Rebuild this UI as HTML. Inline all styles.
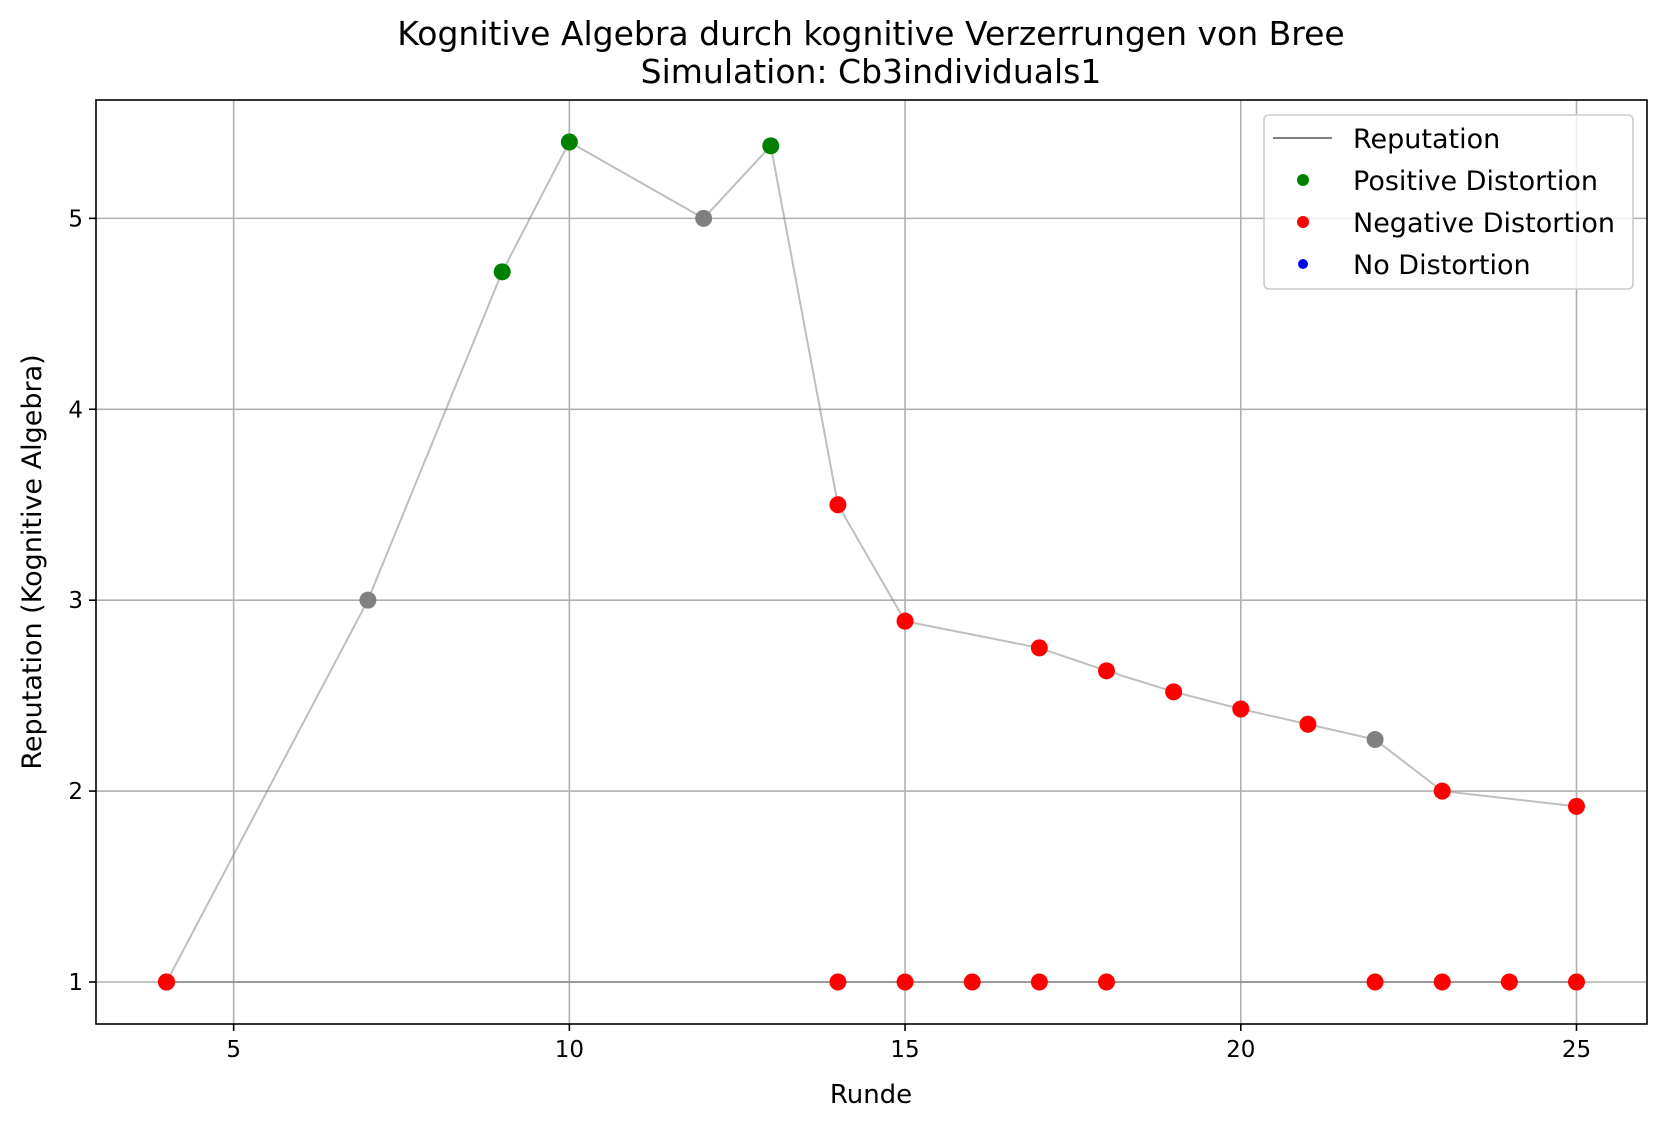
<!DOCTYPE html>
<html><head><meta charset="utf-8"><style>
html,body{margin:0;padding:0;background:#fff;}
svg{display:block;font-family:"DejaVu Sans","Liberation Sans",sans-serif;}
</style></head><body>
<svg id="chart" width="1666" height="1131" viewBox="0 0 1666 1131">
<rect width="1666" height="1131" fill="#fff"/>
<text x="871" y="45" text-anchor="middle" font-size="33">Kognitive Algebra durch kognitive Verzerrungen von Bree</text>
<text x="871" y="83" text-anchor="middle" font-size="33">Simulation: Cb3individuals1</text>
<g id="grid"></g>
<g id="lines"></g>
<g id="points"></g>
<rect x="96" y="100" width="1551" height="924" fill="none" stroke="#000" stroke-width="1.6"/>
<g id="xticks"></g>
<g id="yticks"></g>
<text x="871" y="1103" text-anchor="middle" font-size="26">Runde</text>
<text transform="translate(41,562) rotate(-90)" text-anchor="middle" font-size="27">Reputation (Kognitive Algebra)</text>
<g>
<rect x="1264" y="115" width="369" height="174" rx="5" fill="#fff" fill-opacity="0.8" stroke="#ccc" stroke-width="1.6"/>
<line x1="1273" y1="138" x2="1332" y2="138" stroke="#808080" stroke-width="2"/>
<text x="1353" y="148" font-size="27">Reputation</text>
<circle cx="1303" cy="180" r="6" fill="green"/>
<text x="1353" y="190" font-size="27">Positive Distortion</text>
<circle cx="1303" cy="222" r="6" fill="red"/>
<text x="1353" y="232" font-size="27">Negative Distortion</text>
<circle cx="1303" cy="264" r="5" fill="blue"/>
<text x="1353" y="274" font-size="27">No Distortion</text>
</g>
</svg>
<script>
const rounds = [4,7,9,10,12,13,14,15,17,18,19,20,21,22,23,25];
const reputation = [1,3,4.72,5.4,5.0,5.38,3.5,2.89,2.75,2.63,2.52,2.43,2.35,2.27,2.0,1.92];
const pointTypes = ['neg','none','pos','pos','none','pos','neg','neg','neg','neg','neg','neg','neg','none','neg','neg'];
const baseRounds = [4,14,15,16,17,18,22,23,24,25];
const baseValues = [1,1,1,1,1,1,1,1,1,1];
const xTicks = [5,10,15,20,25];
const yTicks = [1,2,3,4,5];
const X0=96,X1=1647,Y0=1024,Y1=100,xmin=2.95,xmax=26.05,ymin=0.78,ymax=5.62;
const sx=v=>X0+(v-xmin)/(xmax-xmin)*(X1-X0);
const sy=v=>Y0-(v-ymin)/(ymax-ymin)*(Y0-Y1);
const NS='http://www.w3.org/2000/svg';
function mk(tag,attrs,parent){const e=document.createElementNS(NS,tag);for(const k in attrs)e.setAttribute(k,attrs[k]);parent.appendChild(e);return e;}
const grid=document.getElementById('grid'),xt=document.getElementById('xticks'),yt=document.getElementById('yticks');
xTicks.forEach(t=>{
 const g=mk('line',{x1:sx(t),x2:sx(t),y1:Y1,y2:Y0,stroke:'#b0b0b0','stroke-width':1.6},grid);
 
 
 const k=mk('line',{x1:sx(t),x2:sx(t),y1:Y0,y2:Y0+7,stroke:'#000','stroke-width':1.6},xt);
 
 
 const l=mk('text',{x:sx(t),y:Y0+33,'text-anchor':'middle','font-size':23},xt);
 
 
 l.textContent=t;
});
yTicks.forEach(t=>{
 const g=mk('line',{x1:X0,x2:X1,y1:sy(t),y2:sy(t),stroke:'#b0b0b0','stroke-width':1.6},grid);
 
 
 const k=mk('line',{x1:X0-7,x2:X0,y1:sy(t),y2:sy(t),stroke:'#000','stroke-width':1.6},yt);
 
 
 const l=mk('text',{x:X0-13,y:sy(t)+8,'text-anchor':'end','font-size':23},yt);
 
 
 l.textContent=t;
});
const lines=document.getElementById('lines'),pts=document.getElementById('points');
const p1=mk('polyline',{points:rounds.map((r,i)=>sx(r)+','+sy(reputation[i])).join(' '),fill:'none',stroke:'#808080','stroke-opacity':0.5,'stroke-width':2},lines);


const p2=mk('polyline',{points:baseRounds.map((r,i)=>sx(r)+','+sy(baseValues[i])).join(' '),fill:'none',stroke:'#808080','stroke-opacity':0.6,'stroke-width':2},lines);


const col={pos:'green',neg:'red',none:'#808080'};
rounds.forEach((r,i)=>{
 const c=mk('circle',{cx:sx(r),cy:sy(reputation[i]),r:8.5,fill:col[pointTypes[i]]},pts);
 
 
});
baseRounds.forEach((r,i)=>{
 const c=mk('circle',{cx:sx(r),cy:sy(baseValues[i]),r:8.5,fill:'red'},pts);
 
 
});
</script>
</body></html>
